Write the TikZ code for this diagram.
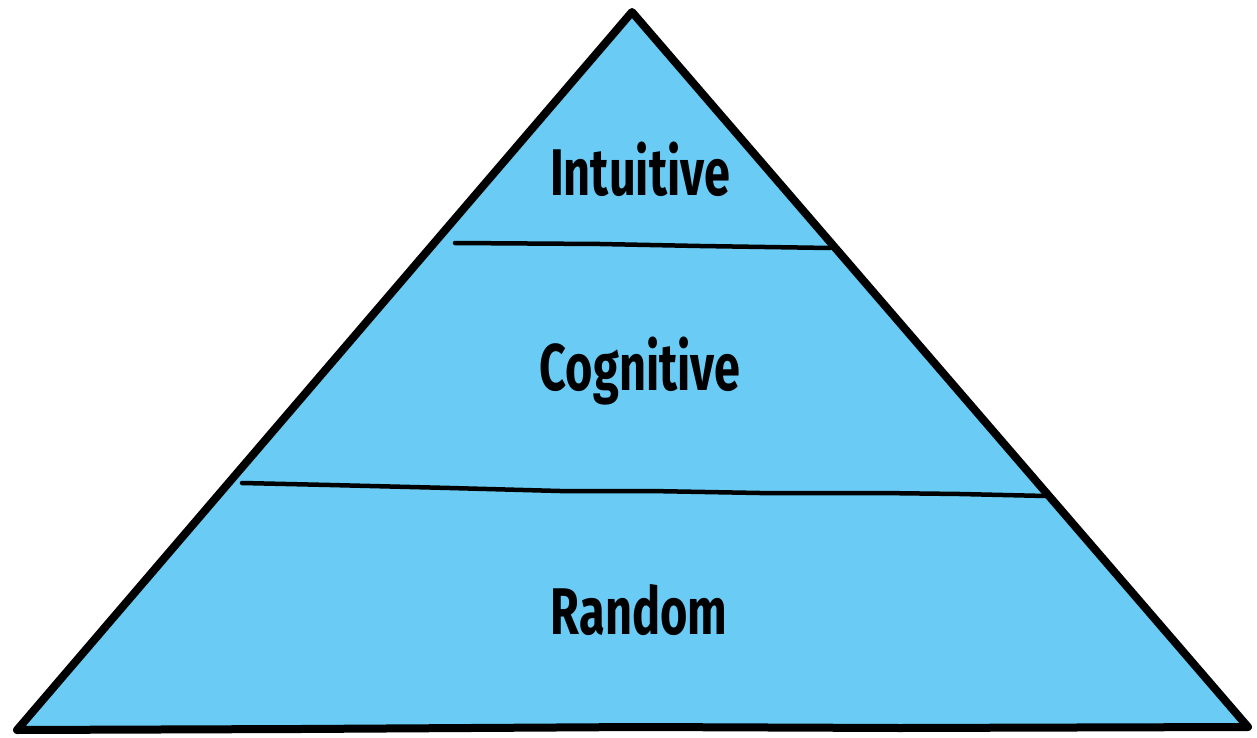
\documentclass[tikz,border=0pt]{standalone}
\usepackage{fontspec}
\setmainfont{Fira Sans}
\definecolor{pyrblue}{HTML}{6ACCF4}
\tikzset{
  outline/.style={draw=black, line width=8pt, line join=round, line cap=round},
  divider/.style={draw=black, line width=4.5pt, line cap=round},
  label/.style={anchor=base, font=\fontsize{66}{66}\selectfont\bfseries, text=black, inner sep=0pt}
}
\newcommand{\cond}[1]{\scalebox{0.71}[1]{#1}}
\begin{document}
\begin{tikzpicture}[x=1pt,y=-1pt]
\useasboundingbox (0,0) rectangle (1257,738);
\coordinate (apex) at (632,12);
\coordinate (bl) at (17,730);
\coordinate (br) at (1248,727);
\coordinate (l1a) at (455,243);
\coordinate (l1b) at (830,248);
\coordinate (l2a) at (242,483);
\coordinate (l2b) at (1046,496);
\fill[pyrblue] (apex) -- (br) -- (bl) -- cycle;
\draw[divider] (l1a) -- (600,244) -- (700,246) -- (l1b);
\draw[divider] (l2a) -- (330,485) -- (450,488) -- (560,491) -- (650,491) -- (760,493) -- (880,493) -- (960,494) -- (l2b);
\draw[outline] (apex) -- (bl) -- (300,729) -- (640,727) -- (900,728) -- (br) -- cycle;
\node[label] (intuitive) at (640,195) {\cond{Intuitive}};
\node[label] (cognitive) at (640,390) {\cond{Cognitive}};
\node[label] (random) at (639,634) {\cond{Random}};
\end{tikzpicture}
\end{document}
